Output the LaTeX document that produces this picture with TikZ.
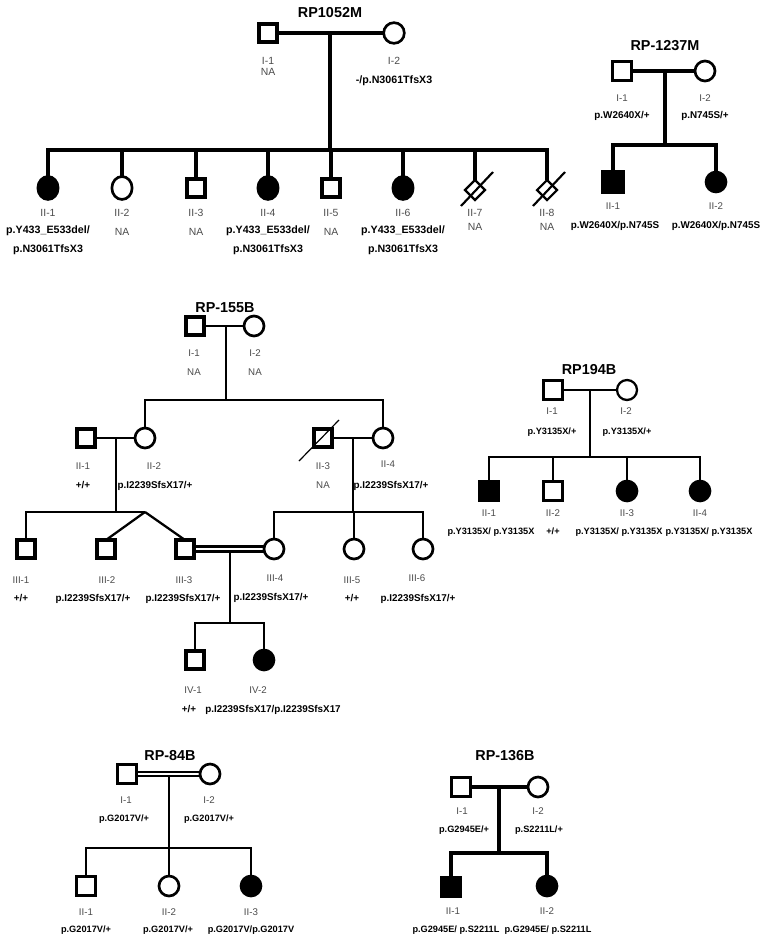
\documentclass[tikz,border=0pt]{standalone}
\usepackage{fontspec}
\setmainfont{Liberation Sans}
\usetikzlibrary{shapes.geometric}
\definecolor{labgray}{gray}{0.3}
\tikzset{
  nd/.style={draw=black, inner sep=0pt, outer sep=0pt},
  sq/.style={nd, rectangle, minimum size=#1},
  ci/.style={nd, circle, minimum size=#1},
  aff/.style={fill=black},
  elA/.style={nd, ellipse, minimum width=15.2pt, minimum height=17.2pt, line width=2pt},
  dia/.style={nd, diamond, minimum size=15pt, line width=1.6pt},
  slashln/.style={line width=0.9pt},
  labA/.style={inner sep=0pt, font=\fontsize{7.8}{9}\selectfont, text=labgray, text height=5.6pt, text depth=0pt},
  lab/.style={inner sep=0pt, font=\fontsize{7.3}{8}\selectfont, text=labgray, text height=5.2pt, text depth=0pt},
  genA/.style={inner sep=0pt, font=\fontsize{8}{9}\selectfont\bfseries, text height=5.7pt, text depth=0pt},
  gen/.style={inner sep=0pt, font=\fontsize{7.4}{9}\selectfont\bfseries, text height=5.3pt, text depth=0pt},
  genS/.style={inner sep=0pt, font=\fontsize{6.9}{8}\selectfont\bfseries, text height=5pt, text depth=0pt},
  ttl/.style={inner sep=0pt, font=\fontsize{10.8}{12}\selectfont\bfseries, text height=7.8pt, text depth=0pt},
}
\begin{document}
\begin{tikzpicture}[x=0.75pt, y=-0.75pt]
\useasboundingbox (0,0) rectangle (765,942);
\fill[white] (0,0) rectangle (765,942);

%% ================= RP1052M =================
\begin{scope}[line width=2.6pt]
\node[ttl] (ta) at (330,12) {RP1052M};
\node[sq=14pt, line width=2.9pt] (a11) at (268,33) {};
\node[ci=15.5pt, line width=2pt] (a12) at (394,33) {};
\coordinate (am) at (330,33);
\coordinate (as) at (330,150);
\draw (a11.east) -- (a12.west);
\draw (am) -- (as);
\node[labA] (a11n) at (268,61) {I-1};
\node[labA] (a11g) at (268,72) {NA};
\node[labA] (a12n) at (394,61) {I-2};
\node[genA] (a12g) at (394,80) {-/p.N3061TfsX3};

\node[elA, aff] (a21) at (48,188) {};
\node[elA] (a22) at (122,188) {};
\node[sq=14pt, line width=2.9pt] (a23) at (196,188) {};
\node[elA, aff] (a24) at (268,188) {};
\node[sq=14pt, line width=2.9pt] (a25) at (331,188) {};
\node[elA, aff] (a26) at (403,188) {};
\node[dia] (a27) at (475,190) {};
\node[dia] (a28) at (547,190) {};
\draw (a21.north) |- (as) -| (a28.north);
\foreach \k in {a22,a23,a24,a25,a26,a27} \draw (\k.north) -- (\k.north |- as);
\draw[line width=1.6pt] ([shift={(-14,16)}]a27.center) -- ([shift={(18,-18)}]a27.center);
\draw[line width=1.6pt] ([shift={(-14,16)}]a28.center) -- ([shift={(18,-18)}]a28.center);

\node[labA] (a21n) at (48,213) {II-1};
\node[genA] (a21g) at (48,230) {p.Y433\_E533del/};
\node[genA] (a21h) at (48,249) {p.N3061TfsX3};
\node[labA] (a22n) at (122,213) {II-2};
\node[labA] (a22g) at (122,232) {NA};
\node[labA] (a23n) at (196,213) {II-3};
\node[labA] (a23g) at (196,232) {NA};
\node[labA] (a24n) at (268,213) {II-4};
\node[genA] (a24g) at (268,230) {p.Y433\_E533del/};
\node[genA] (a24h) at (268,249) {p.N3061TfsX3};
\node[labA] (a25n) at (331,213) {II-5};
\node[labA] (a25g) at (331,232) {NA};
\node[labA] (a26n) at (403,213) {II-6};
\node[genA] (a26g) at (403,230) {p.Y433\_E533del/};
\node[genA] (a26h) at (403,249) {p.N3061TfsX3};
\node[labA] (a27n) at (475,213) {II-7};
\node[labA] (a27g) at (475,227) {NA};
\node[labA] (a28n) at (547,213) {II-8};
\node[labA] (a28g) at (547,227) {NA};
\end{scope}

%% ================= RP-1237M =================
\begin{scope}[line width=2.4pt]
\node[ttl] (tb) at (665,45) {RP-1237M};
\node[sq=14pt, line width=2.3pt] (b11) at (622,71) {};
\node[ci=15pt, line width=2pt] (b12) at (705,71) {};
\coordinate (bm) at (665,71);
\coordinate (bs) at (665,145);
\draw (b11.east) -- (b12.west);
\draw (bm) -- (bs);
\node[sq=16.5pt, aff, line width=1pt] (b21) at (613,182) {};
\node[ci=16pt, aff, line width=1pt] (b22) at (716,182) {};
\draw (b21.north) |- (bs) -| (b22.north);
\node[lab] (b11n) at (622,98) {I-1};
\node[gen] (b11g) at (622,115) {p.W2640X/+};
\node[lab] (b12n) at (705,98) {I-2};
\node[gen] (b12g) at (705,115) {p.N745S/+};
\node[lab] (b21n) at (613,206) {II-1};
\node[gen] (b21g) at (615,225) {p.W2640X/p.N745S};
\node[lab] (b22n) at (716,206) {II-2};
\node[gen] (b22g) at (716,225) {p.W2640X/p.N745S};
\end{scope}

%% ================= RP-155B =================
\begin{scope}[line width=1.7pt]
\node[ttl] (tc) at (225,307) {RP-155B};
\node[sq=13.5pt, line width=3.2pt] (c11) at (195,326) {};
\node[ci=15pt, line width=2pt] (c12) at (254,326) {};
\coordinate (cm1) at (226,326);
\coordinate (cs1) at (226,400);
\draw (c11.east) -- (c12.west);
\draw (cm1) -- (cs1);
\node[lab] (c11n) at (194,353) {I-1};
\node[lab] (c11g) at (194,372) {NA};
\node[lab] (c12n) at (255,353) {I-2};
\node[lab] (c12g) at (255,372) {NA};

\node[sq=13.5pt, line width=3.2pt] (c21) at (86,438) {};
\node[ci=15pt, line width=2pt] (c22) at (145,438) {};
\node[sq=13.5pt, line width=3.2pt] (c23) at (323,438) {};
\node[ci=15pt, line width=2pt] (c24) at (383,438) {};
\draw (c22.north) |- (cs1) -| (c24.north);
\draw[slashln] ([shift={(-24,23)}]c23.center) -- ([shift={(16,-18)}]c23.center);
\coordinate (cm2) at (116,438);
\coordinate (cs2) at (116,512);
\coordinate (cm3) at (353,438);
\coordinate (cs3) at (353,512);
\draw (c21.east) -- (c22.west);
\draw (cm2) -- (cs2);
\draw (c23.east) -- (c24.west);
\draw (cm3) -- (cs3);
\node[lab] (c21n) at (83,466) {II-1};
\node[gen] (c21g) at (83,485) {+/+};
\node[lab] (c22n) at (154,466) {II-2};
\node[gen] (c22g) at (155,485) {p.I2239SfsX17/+};
\node[lab] (c23n) at (323,466) {II-3};
\node[lab] (c23g) at (323,485) {NA};
\node[lab] (c24n) at (388,464) {II-4};
\node[gen] (c24g) at (391,485) {p.I2239SfsX17/+};

\coordinate (ct) at (145,512);
\node[sq=13.5pt, line width=3.2pt] (c31) at (26,549) {};
\node[sq=13.5pt, line width=3.2pt] (c32) at (106,549) {};
\node[sq=13.5pt, line width=3.2pt] (c33) at (185,549) {};
\node[ci=15pt, line width=2pt] (c34) at (274,549) {};
\node[ci=15pt, line width=2pt] (c35) at (354,549) {};
\node[ci=15pt, line width=2pt] (c36) at (423,549) {};
\draw (c31.north) |- (ct);
\draw (ct) -- (c32.north);
\draw (ct) -- (c33.north);
\draw ([yshift=1.9pt]c33.east) -- ([yshift=1.9pt]c33.east -| c34.west);
\draw ([yshift=-1.9pt]c33.east) -- ([yshift=-1.9pt]c33.east -| c34.west);
\draw (c34.north) |- (cs3) -| (c36.north);
\draw (c35.north) -- (c35.north |- cs3);
\coordinate (cm4) at (230,552);
\coordinate (cs4) at (230,623);
\draw (cm4) -- (cs4);
\node[lab] (c31n) at (21,580) {III-1};
\node[gen] (c31g) at (21,598) {+/+};
\node[lab] (c32n) at (107,580) {III-2};
\node[gen] (c32g) at (93,598) {p.I2239SfsX17/+};
\node[lab] (c33n) at (184,580) {III-3};
\node[gen] (c33g) at (183,598) {p.I2239SfsX17/+};
\node[lab] (c34n) at (275,578) {III-4};
\node[gen] (c34g) at (271,597) {p.I2239SfsX17/+};
\node[lab] (c35n) at (352,580) {III-5};
\node[gen] (c35g) at (352,598) {+/+};
\node[lab] (c36n) at (417,578) {III-6};
\node[gen] (c36g) at (418,598) {p.I2239SfsX17/+};

\node[sq=13.5pt, line width=3.2pt] (c41) at (195,660) {};
\node[ci=16pt, aff, line width=1pt] (c42) at (264,660) {};
\draw (c41.north) |- (cs4) -| (c42.north);
\node[lab] (c41n) at (193,690) {IV-1};
\node[lab] (c42n) at (258,690) {IV-2};
\node[gen] (c41g) at (189,709) {+/+};
\node[gen] (c42g) at (273,709) {p.I2239SfsX17/p.I2239SfsX17};
\end{scope}

%% ================= RP194B =================
\begin{scope}[line width=1.7pt]
\node[ttl] (te) at (589,369) {RP194B};
\node[sq=14.5pt, line width=1.8pt] (e11) at (553,390) {};
\node[ci=15pt, line width=1.7pt] (e12) at (627,390) {};
\coordinate (em) at (590,390);
\coordinate (es) at (590,457);
\draw (e11.east) -- (e12.west);
\draw (em) -- (es);
\node[sq=16pt, aff, line width=1pt] (e21) at (489,491) {};
\node[sq=14.5pt, line width=1.8pt] (e22) at (553,491) {};
\node[ci=16pt, aff, line width=1pt] (e23) at (627,491) {};
\node[ci=16pt, aff, line width=1pt] (e24) at (700,491) {};
\draw (e21.north) |- (es) -| (e24.north);
\draw (e22.north) -- (e22.north |- es);
\draw (e23.north) -- (e23.north |- es);
\node[lab] (e11n) at (552,411) {I-1};
\node[genS] (e11g) at (552,431) {p.Y3135X/+};
\node[lab] (e12n) at (626,411) {I-2};
\node[genS] (e12g) at (627,431) {p.Y3135X/+};
\node[lab] (e21n) at (489,513) {II-1};
\node[genS] (e21g) at (491,531) {p.Y3135X/ p.Y3135X};
\node[lab] (e22n) at (553,513) {II-2};
\node[genS] (e22g) at (553,531) {+/+};
\node[lab] (e23n) at (627,513) {II-3};
\node[genS] (e23g) at (619,531) {p.Y3135X/ p.Y3135X};
\node[lab] (e24n) at (700,513) {II-4};
\node[genS] (e24g) at (709,531) {p.Y3135X/ p.Y3135X};
\end{scope}

%% ================= RP-84B =================
\begin{scope}[line width=1.7pt]
\node[ttl] (tf) at (170,755) {RP-84B};
\node[sq=14pt, line width=2.5pt] (f11) at (127,774) {};
\node[ci=15pt, line width=2pt] (f12) at (210,774) {};
\draw ([yshift=1.7pt]f11.east) -- ([yshift=1.7pt]f11.east -| f12.west);
\draw ([yshift=-1.7pt]f11.east) -- ([yshift=-1.7pt]f11.east -| f12.west);
\coordinate (fm) at (169,776);
\coordinate (fs) at (169,848);
\draw (fm) -- (fs);
\node[sq=14pt, line width=2.5pt] (f21) at (86,886) {};
\node[ci=15pt, line width=2pt] (f22) at (169,886) {};
\node[ci=16pt, aff, line width=1pt] (f23) at (251,886) {};
\draw (f21.north) |- (fs) -| (f23.north);
\draw (f22.north) -- (f22.north |- fs);
\node[lab] (f11n) at (126,800) {I-1};
\node[genS] (f11g) at (124,818) {p.G2017V/+};
\node[lab] (f12n) at (209,800) {I-2};
\node[genS] (f12g) at (209,818) {p.G2017V/+};
\node[lab] (f21n) at (86,912) {II-1};
\node[genS] (f21g) at (86,929) {p.G2017V/+};
\node[lab] (f22n) at (169,912) {II-2};
\node[genS] (f22g) at (168,929) {p.G2017V/+};
\node[lab] (f23n) at (251,912) {II-3};
\node[genS] (f23g) at (251,929) {p.G2017V/p.G2017V};
\end{scope}

%% ================= RP-136B =================
\begin{scope}[line width=2.4pt]
\node[ttl] (tg) at (505,755) {RP-136B};
\node[sq=14pt, line width=2.4pt] (g11) at (461,787) {};
\node[ci=15pt, line width=2pt] (g12) at (538,787) {};
\coordinate (gm) at (499,787);
\coordinate (gs) at (499,853);
\draw (g11.east) -- (g12.west);
\draw (gm) -- (gs);
\node[sq=16pt, aff, line width=1pt] (g21) at (451,887) {};
\node[ci=16pt, aff, line width=1pt] (g22) at (547,886) {};
\draw (g21.north) |- (gs) -| (g22.north);
\node[lab] (g11n) at (462,811) {I-1};
\node[genS] (g11g) at (464,829) {p.G2945E/+};
\node[lab] (g12n) at (538,811) {I-2};
\node[genS] (g12g) at (539,829) {p.S2211L/+};
\node[lab] (g21n) at (453,911) {II-1};
\node[genS] (g21g) at (456,929) {p.G2945E/ p.S2211L};
\node[lab] (g22n) at (547,911) {II-2};
\node[genS] (g22g) at (548,929) {p.G2945E/ p.S2211L};
\end{scope}
\end{tikzpicture}
\end{document}
